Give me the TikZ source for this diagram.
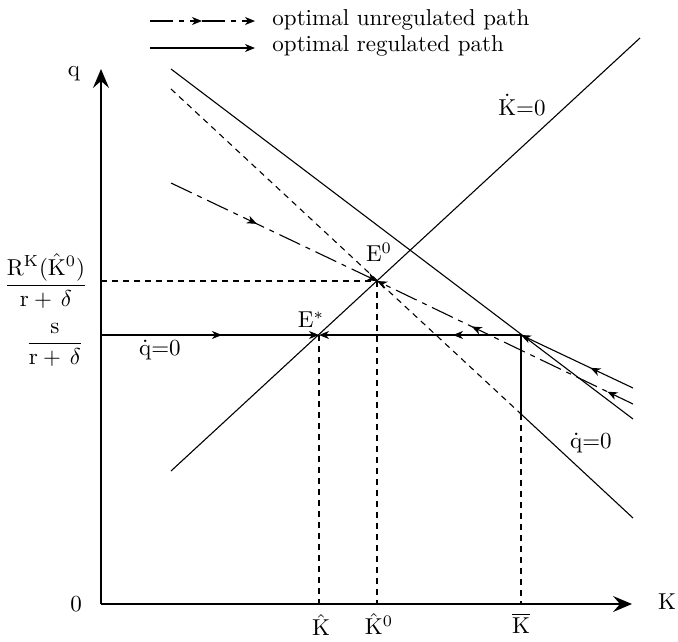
\documentclass[tikz,border=0pt]{standalone}
\usepackage{amsmath}
\usetikzlibrary{arrows.meta,decorations.markings}
\tikzset{
  sarr/.tip={Stealth[length=10pt,width=8pt,inset=3pt]},
  bigarr/.tip={Stealth[length=19pt,width=16pt,inset=7pt]},
  ln/.style={line width=1.1pt},
  axisline/.style={line width=1.4pt,-{bigarr}},
  sdash/.style={line width=1.1pt,dash pattern=on 6pt off 5pt},
  unreg/.style={line width=1.1pt,dash pattern=on 23pt off 6pt on 5pt off 6pt},
  marr/.style={postaction={decorate},decoration={markings,mark=at position #1 with {\arrow{sarr}}}},
  marrtwo/.style 2 args={postaction={decorate},decoration={markings,mark=at position #1 with {\arrow{sarr}},mark=at position #2 with {\arrow{sarr}}}},
  lbl/.style={font=\normalsize,scale=2.3,inner sep=0pt}
}
\begin{document}
\begin{tikzpicture}[x=1pt,y=-1pt]
\useasboundingbox (0,0) rectangle (678,641);
% coordinates
\coordinate (O) at (101,604);
\coordinate (Qtop) at (101,69);
\coordinate (Kend) at (632,604);
\coordinate (Es) at (319,335);
\coordinate (E0) at (377,281);
\coordinate (C) at (521,335);
\coordinate (Cb) at (521,414);
\coordinate (L1a) at (171,69);
\coordinate (L1b) at (633,419);
\coordinate (Qa) at (171,89);
\coordinate (Qb) at (633,518);
\coordinate (Ka) at (171,471);
\coordinate (Kb) at (640,38);
\coordinate (Ua) at (171,183);
\coordinate (Ub) at (633,404);
\coordinate (Rb) at (633,388);
\coordinate (S0) at (101,335);
\coordinate (H0) at (101,281);
\coordinate (Es0) at (319,604);
\coordinate (E00) at (377,604);
\coordinate (Cb0) at (521,604);
% legend
\coordinate (g1a) at (150,21);
\coordinate (g1m) at (202,21);
\coordinate (g1b) at (255,21);
\coordinate (g2a) at (150,48);
\coordinate (g2b) at (255,48);
\draw[unreg,-{sarr}] (g1a) -- (g1m);
\draw[unreg,-{sarr}] (g1m) -- (g1b);
\draw[ln,-{sarr}] (g2a) -- (g2b);
\node[lbl,anchor=west] (t1) at (272,20) {optimal unregulated path};
\node[lbl,anchor=west] (t2) at (272,46) {optimal regulated path};
% axes
\draw[axisline] (O) -- (Qtop);
\draw[axisline] (O) -- (Kend);
% dashed guides
\draw[sdash] (H0) -- (E0);
\draw[sdash] (Es) -- (Es0);
\draw[sdash] (E0) -- (E00);
\draw[sdash] (Cb) -- (Cb0);
% Kdot = 0
\draw[ln] (Ka) -- (Kb);
% qdot = 0 (dashed part, solid beyond Kbar)
\draw[sdash] (Qa) -- (Cb);
\draw[ln] (Cb) -- (Qb);
% upper solid line
\draw[ln] (L1a) -- (L1b);
\draw[ln] (C) -- (Cb);
% unregulated saddle path
\draw[unreg,-{sarr},marr=0.417] (Ua) -- (E0);
\draw[unreg,-{sarr},marrtwo={0.1}{0.63}] (Ub) -- (E0);
% regulated path
\draw[ln,-{sarr},marr=0.38] (Rb) -- (C);
\draw[ln,-{sarr},marr=0.555] (S0) -- (Es);
\draw[ln,-{sarr},marr=0.337] (C) -- (Es);
% labels
\node[lbl] (lq) at (74,74) {q};
\node[lbl] (l0) at (76,604) {0};
\node[lbl] (lK) at (667,602) {K};
\node[lbl] (lKh) at (321,625) {$\hat{\mathrm{K}}$};
\node[lbl] (lKh0) at (379,624) {$\hat{\mathrm{K}}^{0}$};
\node[lbl] (lKb) at (521,623) {$\overline{\mathrm{K}}$};
\node[lbl] (lE0) at (379,252) {$\mathrm{E}^{0}$};
\node[lbl] (lEs) at (311,320) {$\mathrm{E}^{*}$};
\node[lbl] (lqd1) at (160,350) {$\dot{\mathrm{q}}{=}0$};
\node[lbl] (lqd2) at (591,443) {$\dot{\mathrm{q}}{=}0$};
\node[lbl] (lKd) at (522,105) {$\dot{\mathrm{K}}{=}0$};
\node[lbl] (f1) at (46,281) {$\dfrac{\mathrm{R}^{\mathrm{K}}(\hat{\mathrm{K}}^{0})}{\mathrm{r}+\,\delta}$};
\node[lbl] (f2) at (55,345) {$\dfrac{\mathrm{s}}{\mathrm{r}+\,\delta}$};
\end{tikzpicture}
\end{document}
